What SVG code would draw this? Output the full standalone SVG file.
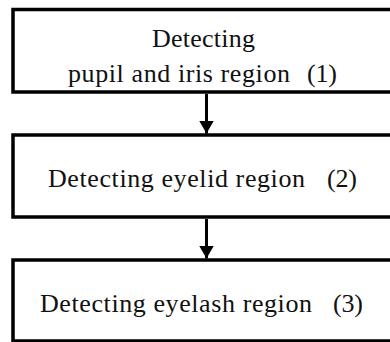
<svg xmlns="http://www.w3.org/2000/svg" width="390" height="342" viewBox="0 0 390 342">
<style>
.box{fill:#fff;stroke:#000;stroke-width:3.5}
.t{font-family:"Liberation Serif","Times New Roman",serif;font-size:26px;fill:#111}
.c{stroke:#000;stroke-width:3;fill:none}
</style>
<defs>
<marker id="ah" markerWidth="13" markerHeight="15" refX="13" refY="7.5" orient="auto" markerUnits="userSpaceOnUse">
<path d="M0,0 L13,7.5 L0,15 Z" fill="#000"/>
</marker>
</defs>
<rect width="390" height="342" fill="#fff"/>
<g id="n1">
<rect class="box" x="13" y="9.5" width="392" height="82.5"/>
<text class="t" x="152" y="47" textLength="103" lengthAdjust="spacing">Detecting</text>
<text class="t" x="68" y="82" textLength="222" lengthAdjust="spacing">pupil and iris region</text>
<text class="t" x="307" y="82" textLength="30" lengthAdjust="spacing">(1)</text>
</g>
<g id="n2">
<rect class="box" x="13" y="135" width="392" height="82"/>
<text class="t" x="48" y="187" textLength="257" lengthAdjust="spacing">Detecting eyelid region</text>
<text class="t" x="327" y="187" textLength="30" lengthAdjust="spacing">(2)</text>
</g>
<g id="n3">
<rect class="box" x="13" y="260" width="392" height="81"/>
<text class="t" x="40" y="312" textLength="272" lengthAdjust="spacing">Detecting eyelash region</text>
<text class="t" x="333" y="312" textLength="30" lengthAdjust="spacing">(3)</text>
</g>
<g id="connectors">
<line class="c" x1="206.5" y1="94" x2="206.5" y2="133.5" marker-end="url(#ah)"/>
<line class="c" x1="206.5" y1="219" x2="206.5" y2="258.5" marker-end="url(#ah)"/>
</g>
</svg>
